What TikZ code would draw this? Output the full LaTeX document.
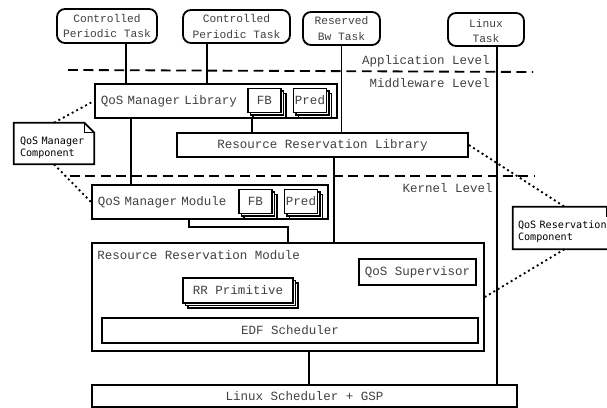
\documentclass[tikz,border=0pt]{standalone}
\usepackage{fontspec}
\setmonofont{Liberation Mono}
\newfontfamily\notefont{DejaVu Sans Mono}
\usetikzlibrary{shadows}

\begin{document}
\begin{tikzpicture}[
    box/.style={draw, line width=1.3pt, fill=white, inner sep=1pt, text=black!75, font=\ttfamily\fontsize{8.9}{10}\selectfont},
    task/.style={box, rounded corners=0.2cm, align=center, font=\ttfamily\fontsize{8}{10.7}\selectfont},
    stack/.style={box, minimum width=0.825cm, minimum height=0.6cm,
      general shadow={shadow xshift=3.6pt, shadow yshift=-3.6pt, draw, fill=white, line width=1.3pt},
      general shadow={shadow xshift=1.8pt, shadow yshift=-1.8pt, draw, fill=white, line width=1.3pt}},
    note/.style={inner ysep=0, align=left, font=\notefont\fontsize{7.2}{8.5}\selectfont},
    level/.style={anchor=east, inner sep=0, text=black!75, font=\ttfamily\fontsize{8.9}{10}\selectfont},
    levelline/.style={line width=1.3pt, dash pattern=on 7pt off 4pt},
    dotline/.style={line width=1.3pt, dash pattern=on 1.4pt off 2.2pt},
    conn/.style={line width=1.3pt}
  ]
  \useasboundingbox (0,0) rectangle (15.175,10.2);

  % levels
  \draw[levelline] (1.7,8.45) -- (13.325,8.4);
  \draw[levelline] (1.75,5.8) -- (13.375,5.8);
  \node[level] (applvl) at (12.25,8.675) {Application Level};
  \node[level] (midlvl) at (12.25,8.125) {Middleware Level};
  \node[level] (krnlvl) at (12.325,5.5) {Kernel Level};

  % application
  \node[task, minimum width=2.5cm, minimum height=0.85cm] (task1) at (2.675,9.55) {Controlled\\Periodic Task};
  \node[task, minimum width=2.675cm, minimum height=0.825cm] (task2) at (5.9125,9.5375) {Controlled\\Periodic Task};
  \node[task, minimum width=1.925cm, minimum height=0.825cm] (resbw) at (8.5375,9.4875) {Reserved\\Bw Task};
  \node[task, minimum width=1.9cm, minimum height=0.825cm] (linuxtask) at (12.15,9.4625) {\rule{0pt}{8pt}Linux\\Task};

  % middleware
  \node[box, anchor=west, inner xsep=0.15cm, text width=5.75cm, minimum height=0.85cm, align=left] (mgrlib) at (2.35,7.675) {QoS Manager Library};
  \node[stack] (libfb) at (6.6125,7.6875) {FB};
  \node[stack] (libpred) at (7.75,7.6875) {Pred};
  \node[box, minimum width=7.275cm, minimum height=0.6cm] (rrlib) at (8.0625,6.575) {Resource Reservation Library};

  % kernel
  \node[box, anchor=west, inner xsep=0.15cm, text width=5.6cm, minimum height=0.85cm, align=left] (mgrmod) at (2.275,5.15) {QoS Manager Module};
  \node[stack] (modfb) at (6.3875,5.1625) {FB};
  \node[stack] (modpred) at (7.525,5.1625) {Pred};
  \node[box, minimum width=9.8cm, minimum height=2.7cm] (rrmod) at (7.2,2.775) {};
  \node[level, anchor=west] (rrmodlbl) at (2.425,3.825) {Resource Reservation Module};
  \node[box, minimum width=2.925cm, minimum height=0.65cm] (super) at (10.4375,3.4) {QoS Supervisor};
  \node[box, minimum width=2.75cm, minimum height=0.625cm,
    general shadow={shadow xshift=3.6pt, shadow yshift=-3.6pt, draw, fill=white, line width=1.3pt},
    general shadow={shadow xshift=1.8pt, shadow yshift=-1.8pt, draw, fill=white, line width=1.3pt}] (rrprim) at (5.95,2.9375) {RR Primitive};
  \node[box, minimum width=9.4cm, minimum height=0.625cm] (edf) at (7.25,1.9375) {EDF Scheduler};
  \node[box, minimum width=10.625cm, minimum height=0.55cm] (linuxsched) at (7.6125,0.3) {Linux Scheduler + GSP};

  % components
  \node[note, minimum width=2cm, minimum height=1.025cm, inner xsep=0.15cm, text width=1.7cm] (mgrnote) at (1.35,6.6125) {\rule{0pt}{12pt}QoS Manager\\Component};
  \draw[line width=1.3pt] (mgrnote.south west) -- (mgrnote.north west) -- ([xshift=-0.25cm]mgrnote.north east) -- ([yshift=-0.25cm]mgrnote.north east) -- (mgrnote.south east) -- cycle;
  \draw ([xshift=-0.25cm]mgrnote.north east) |- ([yshift=-0.25cm]mgrnote.north east);
  \node[note, minimum width=2.575cm, minimum height=1.05cm, inner xsep=0.125cm, text width=2.325cm] (resnote) at (14.1125,4.5) {\rule{0pt}{11pt}QoS Reservation\\Component};
  \draw[line width=1.3pt] (resnote.south west) -- (resnote.north west) -- ([xshift=-0.25cm]resnote.north east) -- ([yshift=-0.25cm]resnote.north east) -- (resnote.south east) -- cycle;
  \draw ([xshift=-0.25cm]resnote.north east) |- ([yshift=-0.25cm]resnote.north east);

  % connections
  \coordinate (xa) at (3.15,0);
  \coordinate (xb) at (5.175,0);
  \coordinate (xc) at (12.425,0);
  \coordinate (xd) at (3.275,0);
  \coordinate (xe) at (6.3,0);
  \coordinate (xf) at (8.35,0);
  \coordinate (xg) at (7.725,0);
  \coordinate (bend) at (4.725,4.525);
  \draw[conn] (task1.south -| xa) -- (mgrlib.north -| xa);
  \draw[conn] (task2.south -| xb) -- (mgrlib.north -| xb);
  \draw[conn] (resbw.south) -- (resbw.south |- rrlib.north);
  \draw[conn] (linuxtask.south -| xc) -- (linuxsched.north -| xc);
  \draw[conn] (mgrlib.south -| xd) -- (mgrmod.north -| xd);
  \draw[conn] (mgrlib.south -| xe) -- (rrlib.north -| xe);
  \draw[conn] (rrlib.south -| xf) -- (rrmod.north -| xf);
  \draw[conn] (mgrmod.south -| bend) -- (bend) -| (rrmod.north);
  \draw[conn] (rrmod.south -| xg) -- (linuxsched.north -| xg);

  \draw[dotline] (mgrnote.north) -- (mgrlib.west);
  \draw[dotline] (mgrnote.south) -- (mgrmod.west);
  \draw[dotline] (rrlib.east) -- (resnote.north);
  \draw[dotline] (resnote.south) -- (rrmod.east);
\end{tikzpicture}
\end{document}
